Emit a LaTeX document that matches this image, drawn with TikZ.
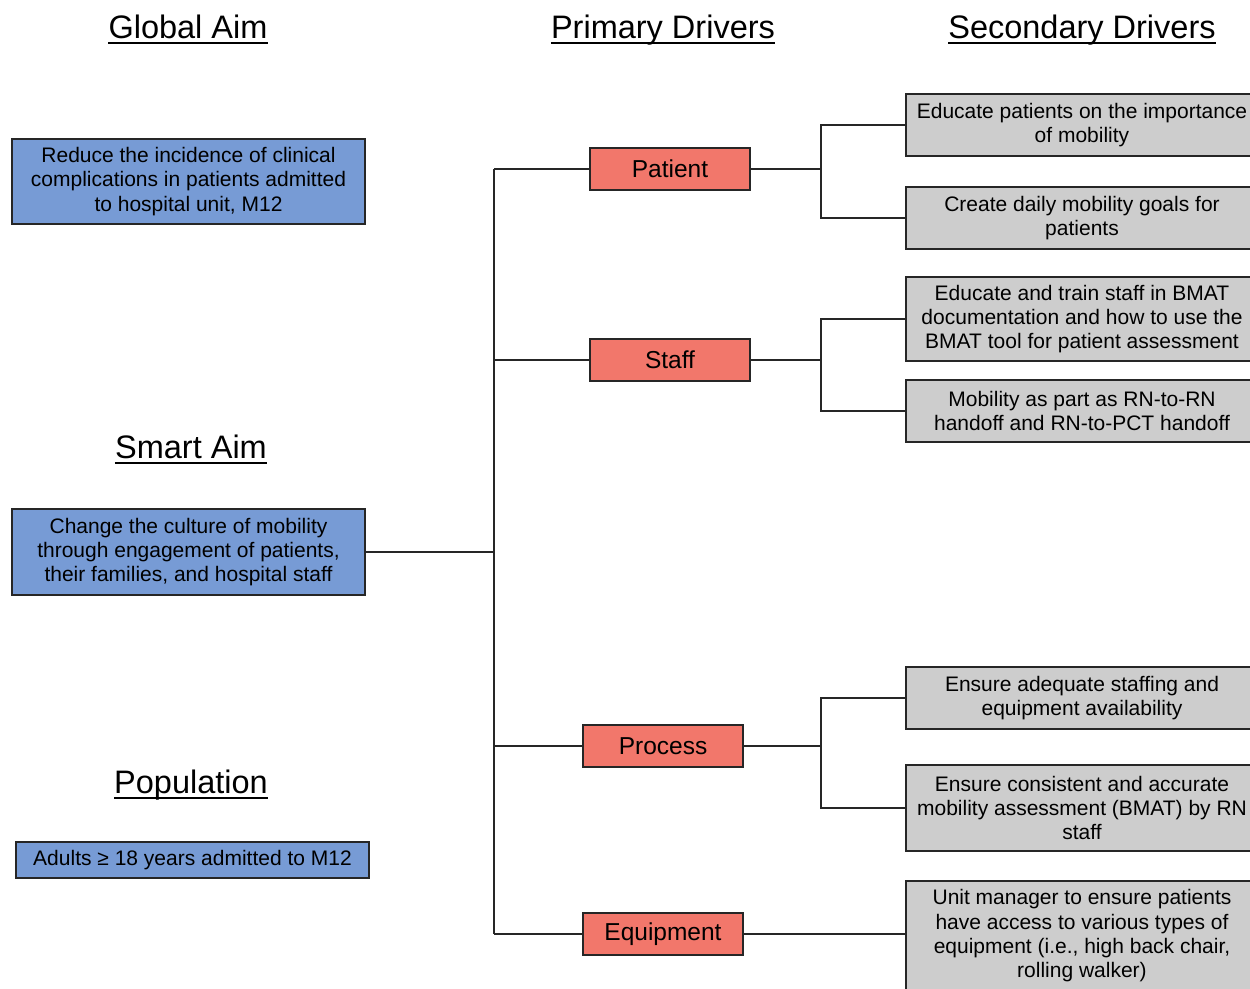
\documentclass[tikz,border=0pt]{standalone}
\usepackage{fontspec}
\setmainfont{Liberation Sans}
\begin{document}
\begin{tikzpicture}[x=1pt,y=-1pt,
  header/.style={anchor=base,inner sep=0pt,font=\fontsize{32.5}{36}\selectfont},
  aimbox/.style={draw=black!85,line width=1.4pt,fill=aimblue,minimum width=353pt,align=center,inner sep=0pt,font=\fontsize{21}{24.3}\selectfont},
  drvbox/.style={draw=black!85,line width=1.4pt,fill=drvred,minimum width=160pt,minimum height=42pt,inner sep=0pt,font=\fontsize{24.5}{28}\selectfont},
  secbox/.style={draw=black!85,line width=1.4pt,fill=secgray,minimum width=352pt,align=center,inner sep=0pt,font=\fontsize{21}{24.3}\selectfont},
  conn/.style={draw=black!85,line width=1.3pt},
  uline/.style={line width=2pt}]
\definecolor{aimblue}{HTML}{779BD5}
\definecolor{drvred}{HTML}{F2776B}
\definecolor{secgray}{HTML}{CDCDCD}
\useasboundingbox (0,0) rectangle (1250,988);
\clip (0,0) rectangle (1250,988);
% headers
\node[header] (hg) at (188,38) {Global Aim};
\node[header] (hp) at (663,38) {Primary Drivers};
\node[header] (hs) at (1082,38) {Secondary Drivers};
\node[header] (hsm) at (191,458) {Smart Aim};
\node[header] (hpo) at (191,793) {Population};
\foreach \h in {hg,hp,hs,hsm,hpo}{
  \draw[uline] ([yshift=-5pt]\h.base west) -- ([yshift=-5pt]\h.base east);
}
% aim boxes
\node[aimbox,minimum height=85pt] (global) at (188.5,181.5) {Reduce the incidence of clinical\\complications in patients admitted\\to hospital unit, M12};
\node[aimbox,minimum height=86pt] (smart) at (188.5,552) {Change the culture of mobility\\through engagement of patients,\\their families, and hospital staff};
\node[aimbox,minimum height=36pt] (pop) at (192.5,860) {Adults ≥ 18 years admitted to M12};
% primary drivers
\node[drvbox] (patient) at (670,169) {Patient};
\node[drvbox] (staff) at (670,360) {Staff};
\node[drvbox] (process) at (663,746) {Process};
\node[drvbox] (equip) at (663,934) {Equipment};
% secondary drivers
\node[secbox,minimum height=62pt] (s1) at (1082,125) {Educate patients on the importance\\of mobility};
\node[secbox,minimum height=62pt] (s2) at (1082,218) {Create daily mobility goals for\\patients};
\node[secbox,minimum height=84pt] (s3) at (1082,319) {Educate and train staff in BMAT\\documentation and how to use the\\BMAT tool for patient assessment};
\node[secbox,minimum height=62pt] (s4) at (1082,411) {Mobility as part as RN-to-RN\\handoff and RN-to-PCT handoff};
\node[secbox,minimum height=62pt] (s5) at (1082,698) {Ensure adequate staffing and\\equipment availability};
\node[secbox,minimum height=86pt] (s6) at (1082,808) {Ensure consistent and accurate\\mobility assessment (BMAT) by RN\\staff};
\node[secbox,minimum height=110pt] (s7) at (1082,936) {Unit manager to ensure patients\\have access to various types of\\equipment (i.e., high back chair,\\rolling walker)};
% connectors
\coordinate (tr) at (494,0);
\coordinate (jx) at (821,0);
\draw[conn] (patient.west -| tr) -- (equip.west -| tr);
\draw[conn] (smart.east) -- (smart.east -| tr);
\foreach \p in {patient,staff,process,equip}{
  \draw[conn] (\p.west -| tr) -- (\p.west);
}
\foreach \p/\a/\b in {patient/s1/s2,staff/s3/s4,process/s5/s6}{
  \draw[conn] (\p.east) -- (\p.east -| jx);
  \draw[conn] (\a.west) -- (\a.west -| jx) -- (\b.west -| jx) -- (\b.west);
}
\draw[conn] (equip.east) -- (equip.east -| s7.west);
\end{tikzpicture}
\end{document}
